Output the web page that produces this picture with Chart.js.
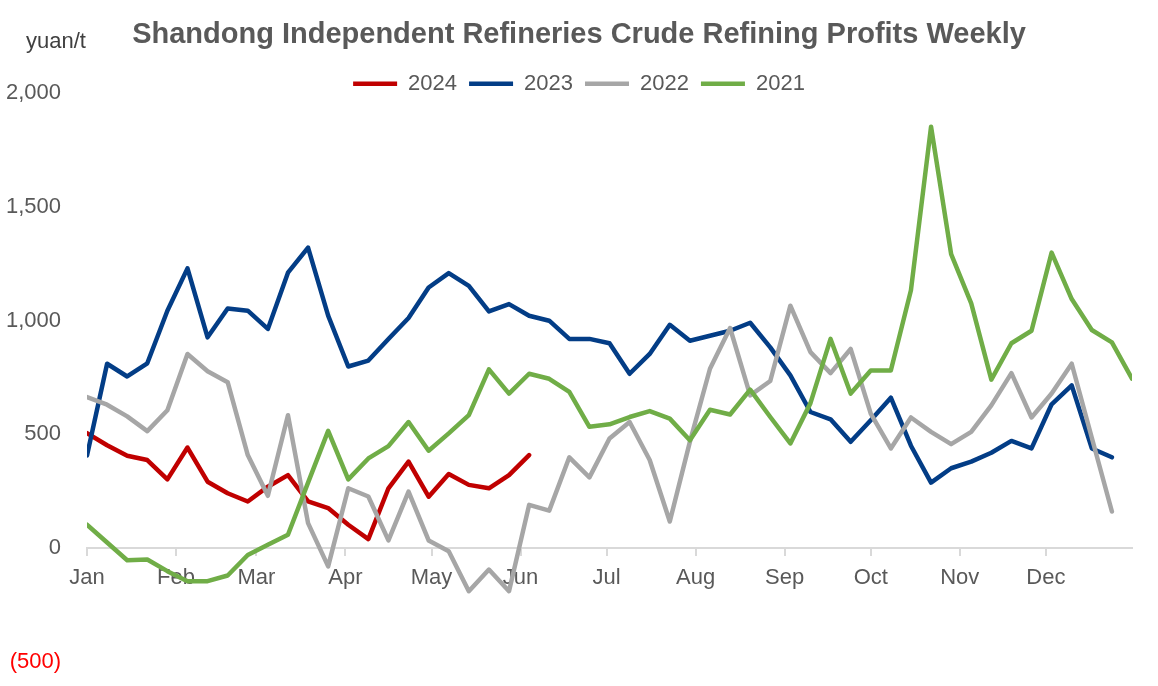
<!DOCTYPE html>
<html>
<head>
<meta charset="utf-8">
<script src="https://cdn.jsdelivr.net/npm/chart.js@4.4.1/dist/chart.umd.min.js"></script>
<style>
  html, body { margin: 0; padding: 0; background: #fff; }
  #wrap { width: 1158px; height: 686px; position: relative; }
</style>
</head>
<body>
<div id="wrap"><canvas id="chart__profits"></canvas></div>
<script>
const months = ['Jan', 'Feb', 'Mar', 'Apr', 'May', 'Jun', 'Jul', 'Aug', 'Sep', 'Oct', 'Nov', 'Dec'];
const monthStartDays = [0, 31, 59, 90, 120, 151, 181, 212, 243, 273, 304, 334];
const daysPerWeek = 7;
const yTicks = [-500, 0, 500, 1000, 1500, 2000];

// weekly profits, yuan/t
const profits2024 = [505, 452, 406, 387, 302, 442, 292, 241, 205, 270, 321, 205, 176, 103, 40, 263,
    380, 226, 326, 278, 263, 321, 409];
const profits2023 = [407, 810, 754, 812, 1043, 1229, 926, 1053, 1043, 963, 1210, 1320, 1021, 798, 824, 919,
    1011, 1145, 1208, 1152, 1040, 1072, 1021, 999, 919, 919, 900, 766, 853, 981, 911, 933,
    955, 990, 882, 759, 598, 566, 467, 562, 661, 450, 288, 351, 380, 419, 471, 438,
    632, 715, 438, 399];
const profits2022 = [664, 630, 579, 514, 606, 853, 777, 729, 409, 230, 584, 110, -80, 263, 227, 34,
    248, 34, -14, -189, -94, -189, 190, 165, 399, 311, 482, 554, 387, 117, 467, 788,
    967, 671, 734, 1065, 861, 769, 875, 591, 438, 574, 511, 457, 511, 627, 769, 574,
    679, 810, 485, 161];
const profits2021 = [103, 25, -53, -50, -101, -145, -145, -120, -30, 15, 59, 288, 515, 302, 394, 448,
    554, 428, 504, 584, 785, 679, 766, 744, 686, 533, 544, 576, 602, 569, 474, 608,
    587, 696, 576, 460, 637, 919, 679, 780, 780, 1133, 1851, 1291, 1075, 740, 900, 955,
    1298, 1094, 958, 904, 744];

const series = [
    { label: '2024', values: profits2024, color: '#c00000', order: 3 },
    { label: '2023', values: profits2023, color: '#033d86', order: 2 },
    { label: '2022', values: profits2022, color: '#a6a6a6', order: 1 },
    { label: '2021', values: profits2021, color: '#70ad47', order: 0 },
];

Chart.defaults.font.family = '"Liberation Sans", Arial, sans-serif';

const unitLabel = {
    id: 'unitLabel',
    afterInit(chart) {
        // let the plot start right under the legend text, as in the original
        const lg = chart.legend;
        const fit = lg.fit;
        lg.fit = function () {
            fit.call(this);
            this.height = 32;
        };
    },
    afterDraw(chart) {
        const ctx = chart.ctx;
        ctx.save();
        ctx.font = '22px "Liberation Sans", Arial, sans-serif';
        ctx.fillStyle = '#404040';
        ctx.textAlign = 'center';
        ctx.textBaseline = 'middle';
        ctx.fillText('yuan/t', 56, 42);
        ctx.restore();
    }
};

new Chart(
    document.getElementById('chart__profits'),
    {
        type: 'line',
        data: {
            datasets: series.map(s => ({
                label: s.label,
                data: s.values.map((v, i) => ({ x: i * daysPerWeek, y: v })),
                borderColor: s.color,
                backgroundColor: s.color,
                borderWidth: 4.5,
                borderCapStyle: 'round',
                borderJoinStyle: 'round',
                pointRadius: 0,
                tension: 0,
                order: s.order,
            }))
        },
        options: {
            responsive: true,
            maintainAspectRatio: false,
            animation: false,
            layout: { padding: { left: 0, right: 0, top: 0, bottom: 24 } },
            plugins: {
                title: {
                    display: true,
                    text: 'Shandong Independent Refineries Crude Refining Profits Weekly',
                    color: '#595959',
                    font: { size: 29, weight: 'bold' },
                    padding: { top: 18, bottom: 8 }
                },
                legend: {
                    labels: {
                        usePointStyle: true,
                        pointStyle: 'line',
                        pointStyleWidth: 44,
                        color: '#595959',
                        font: { size: 22 },
                        padding: 12,
                        sort: (a, b) => a.datasetIndex - b.datasetIndex
                    }
                },
                tooltip: { enabled: false }
            },
            scales: {
                x: {
                    type: 'linear',
                    position: { y: 0 },
                    min: 0,
                    max: 364,
                    afterBuildTicks: scale => {
                        scale.ticks = monthStartDays.map(d => ({ value: d }));
                    },
                    ticks: {
                        callback: (v, i) => months[i],
                        autoSkip: false,
                        maxRotation: 0,
                        color: '#595959',
                        font: { size: 22 },
                        padding: 10
                    },
                    grid: { drawOnChartArea: false, tickLength: 7, color: '#d9d9d9', lineWidth: 2 },
                    border: { color: '#d9d9d9', width: 2 }
                },
                y: {
                    min: -500,
                    max: 2000,
                    afterBuildTicks: scale => {
                        scale.ticks = yTicks.map(v => ({ value: v }));
                    },
                    afterFit: scale => { scale.width = 87; },
                    ticks: {
                        callback: v => v < 0 ? '(' + Math.abs(v).toLocaleString('en-US') + ')' : v.toLocaleString('en-US'),
                        color: c => (c.tick && c.tick.value < 0) ? '#ff0000' : '#595959',
                        font: { size: 22 },
                        padding: 2
                    },
                    grid: { drawOnChartArea: false, drawTicks: true, tickLength: 24, color: 'rgba(0,0,0,0)' },
                    border: { display: false }
                },
                // empty right margin so the plot ends where the original does
                yRight: {
                    position: 'right',
                    afterFit: scale => { scale.width = 26; },
                    ticks: { display: false },
                    grid: { display: false },
                    border: { display: false }
                }
            }
        },
        plugins: [unitLabel]
    }
);
</script>
</body>
</html>
